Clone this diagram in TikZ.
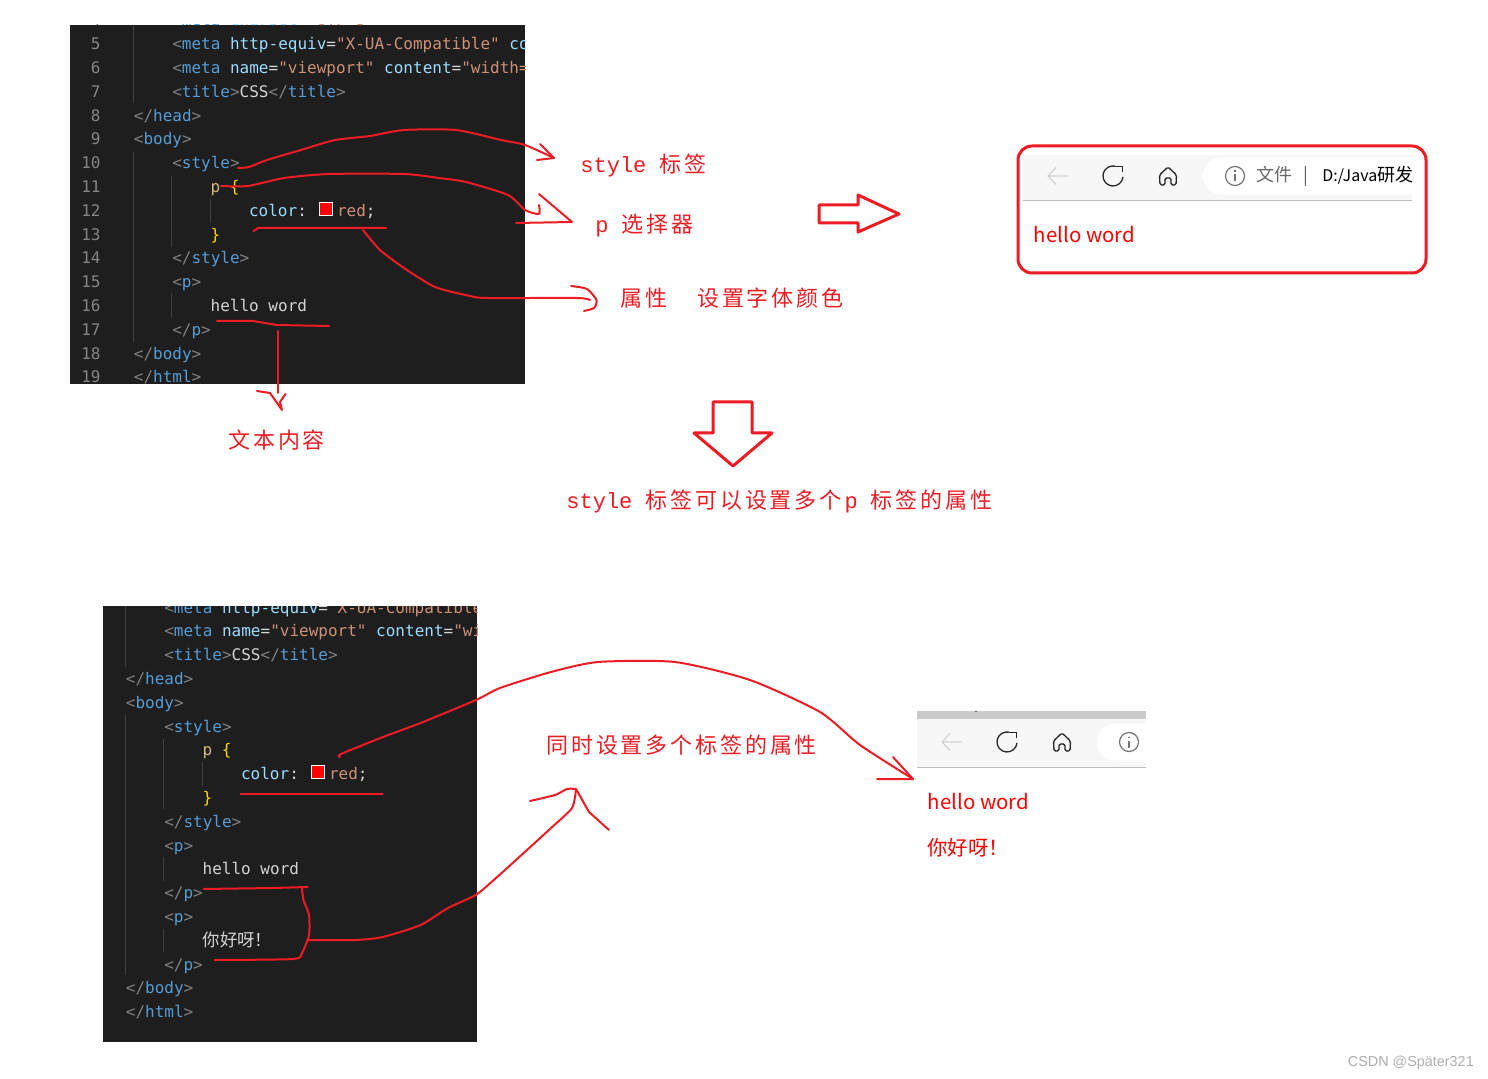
\documentclass[tikz,border=0pt]{standalone}
\usepackage{fontspec}
\setmonofont{Liberation Mono}
\newfontfamily\codefont{DejaVu Sans Mono}
\newfontfamily\cjk{Noto Sans CJK SC}
\newfontfamily\cjklab[LetterSpace=13]{Noto Sans CJK SC}
\newfontfamily\wmfont{Liberation Sans}
\usepackage{xcolor}
\definecolor{inkred}{HTML}{ED1C24}
\definecolor{codebg}{HTML}{1E1E1E}
\definecolor{codefg}{HTML}{D4D4D4}
\definecolor{codegray}{HTML}{808080}
\definecolor{codeblue}{HTML}{569CD6}
\definecolor{codeattr}{HTML}{9CDCFE}
\definecolor{codestr}{HTML}{CE9178}
\definecolor{codesel}{HTML}{D7BA7D}
\definecolor{codebrace}{HTML}{FFD700}
\definecolor{codenum}{HTML}{858585}
\definecolor{guidegray}{HTML}{404040}
\definecolor{barbg}{HTML}{F7F7F7}
\definecolor{barline}{HTML}{BDBDBD}
\newcommand\cbr[1]{\textcolor{codegray}{#1}}
\newcommand\tgn[1]{\textcolor{codeblue}{#1}}
\newcommand\atn[1]{\textcolor{codeattr}{#1}}
\newcommand\stv[1]{\textcolor{codestr}{#1}}
\newcommand\otag[1]{\cbr{<}\tgn{#1}\cbr{>}}
\newcommand\ctag[1]{\cbr{</}\tgn{#1}\cbr{>}}
\newcommand\titleline{\cbr{<}\tgn{title}\cbr{>}CSS\ctag{title}}
\newcommand\pline{\textcolor{codesel}{p}\ \textcolor{codebrace}{\{}}
\newcommand\colorline{\atn{color}:\hspace{15.1pt}\stv{red};}
\tikzset{
  inkline/.style={draw=inkred, line width=1pt, line join=round, line cap=round},
  codebox/.style={fill=codebg},
  codetext/.style={anchor=base west, inner sep=0pt, text=codefg, font=\codefont\fontsize{8}{10}\selectfont},
  linenum/.style={anchor=base east, inner sep=0pt, text=codenum, font=\codefont\fontsize{8}{10}\selectfont},
  guideline/.style={draw=guidegray, line width=0.5pt},
  swatch/.style={draw=white, fill=red, line width=0.5pt, minimum size=6.5pt, inner sep=0pt},
  inklab/.style={anchor=west, inner sep=0pt, text=inkred, font=\fontsize{11}{13}\selectfont},
  pagetext/.style={anchor=west, inner sep=0pt, text=red, font=\cjk\fontsize{10.2}{12}\selectfont},
  bartext/.style={anchor=west, inner sep=0pt, font=\cjk\fontsize{9}{11}\selectfont},
  navbar/.pic={
    \fill[white, rounded corners=9pt] (145,-18.5) rectangle (400,18.5);
    \draw[gray!35, line width=0.6pt] (10,0) -- (-10,0) (-2,-8.5) -- (-10,0) -- (-2,8.5);
    \draw[black!85, line width=0.65pt] (55,0) ++(9.96,0.87) arc[start angle=5, end angle=280, radius=10];
    \draw[black!85, line width=0.65pt] (56.7,-9.8) -- (64.5,-9.8) -- (64.5,-4);
    \draw[black!85, line width=0.65pt, rounded corners=0.8pt] (107,9) -- (107,2) -- (113,2) -- (113,9)
      -- (118,9) -- (118.5,-1) -- (110,-9) -- (101.5,-1) -- (102,9) -- cycle;
    \draw[black!55, line width=0.6pt] (177,0) circle[radius=9.5];
    \draw[black!55, line width=0.6pt] (177,-1.5) -- (177,5.5) (177,-5.5) -- (177,-4);
  },
}
\begin{document}
\begin{tikzpicture}[x=0.5pt,y=-0.5pt]
\useasboundingbox (0,0) rectangle (1488,1079);
\fill[codebox] (70,25) rectangle (525,384);
\begin{scope}
  \clip (70,25) rectangle (525,384);
  \foreach \n/\ind/\code in {
    4/1/{\cbr{<}\tgn{meta} \atn{charset}=\stv{"UTF-8"}\cbr{>}},
    5/1/{\cbr{<}\tgn{meta} \atn{http-equiv}=\stv{"X-UA-Compatible"} \atn{co}},
    6/1/{\cbr{<}\tgn{meta} \atn{name}=\stv{"viewport"} \atn{content}=\stv{"width=}},
    7/1/{\titleline},
    8/0/{\ctag{head}},
    9/0/{\otag{body}},
    10/1/{\otag{style}},
    11/2/{\pline},
    12/3/{\colorline},
    13/2/{\textcolor{codebrace}{\}}},
    14/1/{\ctag{style}},
    15/1/{\otag{p}},
    16/2/{hello word},
    17/1/{\ctag{p}},
    18/0/{\ctag{body}},
    19/0/{\ctag{html}}}{
    \pgfmathsetmacro\cx{133.5+38.4*\ind}
    \pgfmathsetmacro\cy{26+23.8*(\n-4)}
    \node[linenum] (numA\n) at (101,\cy) {\n};
    \node[codetext] (lineA\n) at (\cx,\cy) {\code};
  }
\end{scope}
\draw[guideline] (133.5,25) -- (133.5,103) (133.5,152) -- (133.5,342)
  (171.5,176) -- (171.5,247) (210,199) -- (210,223) (171.5,294) -- (171.5,318);
\node[swatch] (swatchA) at (326,209) {};
\fill[codebox] (103,606) rectangle (477,1042);
\begin{scope}
  \clip (103,606) rectangle (477,1042);
  \foreach \n/\ind/\code in {
    0/1/{\cbr{<}\tgn{meta} \atn{http-equiv}=\stv{"X-UA-Compatible"}},
    1/1/{\cbr{<}\tgn{meta} \atn{name}=\stv{"viewport"} \atn{content}=\stv{"wi}},
    2/1/{\titleline},
    3/0/{\ctag{head}},
    4/0/{\otag{body}},
    5/1/{\otag{style}},
    6/2/{\pline},
    7/3/{\colorline},
    8/2/{\textcolor{codebrace}{\}}},
    9/1/{\ctag{style}},
    10/1/{\otag{p}},
    11/2/{hello word},
    12/1/{\ctag{p}},
    13/1/{\otag{p}},
    14/2/{{\cjk\fontsize{8.7}{10}\selectfont 你好呀！}},
    15/1/{\ctag{p}},
    16/0/{\ctag{body}},
    17/0/{\ctag{html}}}{
    \pgfmathsetmacro\cx{125.5+38.4*\ind}
    \pgfmathsetmacro\cy{613+23.8*\n}
    \node[codetext] (lineB\n) at (\cx,\cy) {\code};
  }
\end{scope}
\draw[guideline] (125.5,606) -- (125.5,667) (125.5,715) -- (125.5,975)
  (163.5,739) -- (163.5,809) (202,762) -- (202,786) (163.5,857) -- (163.5,881) (163.5,929) -- (163.5,952);
\node[swatch] (swatchB) at (318,772) {};

\node[inklab] (stylelab) at (580,165) {\texttt{style\ }{\cjklab 标签}};
\node[inklab] (plab) at (595,225.5) {\texttt{p\ }{\cjklab 选择器}};
\node[inklab] (attrlab) at (620,298) {{\cjklab 属性}\hspace{15pt}{\cjklab 设置字体颜色}};
\node[inklab] (textlab) at (228,440) {{\cjklab 文本内容}};
\node[inklab] (manylab) at (566,501) {\texttt{style\ }{\cjklab 标签可以设置多个}\texttt{p\ }{\cjklab 标签的属性}};
\node[inklab] (bothlab) at (546,745) {{\cjklab 同时设置多个标签的属性}};

\coordinate (stylemk) at (238,168);
\coordinate (stylept) at (554,158);
\draw[inkline] plot[smooth, tension=0.4] coordinates {(stylemk) (249,167) (267,160) (301,150) (335,140) (370,136) (404,130) (456,130) (501,140) (525,145) (stylept)};
\draw[inkline] (540,144) -- (stylept) -- (537,160);
\coordinate (pmk) at (221,186);
\coordinate (pend) at (539,205);
\coordinate (ppt) at (572,222);
\draw[inkline] plot[smooth, tension=0.4] coordinates {(pmk) (248,186) (284,178) (329,174) (404,174) (439,178) (466,182) (508,195) (525,210) (539,214) (pend)};
\draw[inkline] (539,194) -- (ppt) -- (516,223);
\coordinate (colormk) at (253.5,231);
\coordinate (colorend) at (386,228);
\draw[inkline] (colormk) -- (258,228) -- (colorend);
\coordinate (attrmk) at (363,230);
\coordinate (attrpt) at (596.5,300);
\draw[inkline] plot[smooth, tension=0.4] coordinates {(attrmk) (380,250) (404,268) (435,287) (470,296) (487,298) (576.5,298) (590,300)};
\draw[inkline] plot[smooth, tension=0.4] coordinates {(571,286) (587,289) (attrpt) (594,308) (584,311)};
\coordinate (hellomk) at (217,321);
\coordinate (helloend) at (329,326);
\draw[inkline] (hellomk) -- (253,321) -- (277,325) -- (helloend);
\coordinate (textmk) at (277.6,331);
\coordinate (textpt) at (282,410);
\draw[inkline] (textmk) -- (277.6,393);
\draw[inkline] (257,391) -- (270,393) -- (textpt) -- (280,402) -- (285.5,394);

\draw[inkline, line width=1.5pt] (819,205) -- (858,205) -- (858,195) -- (899,214) -- (858,232) -- (858,223) -- (819,223) -- cycle;
\draw[inkline, line width=1.5pt] (713,402) -- (752,402) -- (752,433) -- (772,433) -- (733,466) -- (694,433) -- (713,433) -- cycle;

\coordinate (colormkB) at (240.5,794);
\coordinate (colorendB) at (382.7,794);
\draw[inkline] (colormkB) -- (colorendB);
\coordinate (arcmk) at (340,757);
\coordinate (arcpt) at (913,779);
\draw[inkline] plot[smooth, tension=0.4] coordinates {(arcmk) (341,754) (383,737) (420.6,723) (476,700) (500,688) (551,672) (598,662) (675,662) (750,680) (820,712) (860,745) (arcpt)};
\draw[inkline] (893,757) -- (arcpt) -- (877,779);
\coordinate (bracktop) at (203.6,889);
\coordinate (brackend) at (307.6,887);
\draw[inkline] (bracktop) -- (272.5,888) -- (brackend);
\coordinate (brackbot) at (214.7,960);
\draw[inkline] plot[smooth, tension=0.4] coordinates {(302,888) (303.5,900) (309,915) (309,935) (302,953) (293,959) (brackbot)};
\coordinate (brackmid) at (307.6,940);
\coordinate (uppt) at (576,789);
\draw[inkline] plot[smooth, tension=0.4] coordinates {(brackmid) (355,940) (382.7,937) (420.6,925) (448,908) (475.7,895) (496,878) (527,850) (551,828) (572,808) (uppt)};
\draw[inkline] plot[smooth, tension=0.4] coordinates {(530,801) (555,795) (567,789) (uppt)};
\draw[inkline] (uppt) -- (589,812) -- (609,830);

\draw[inkline, line width=1.5pt, rounded corners=7pt] (1018,146) rectangle (1426,273);
\begin{scope}
  \clip (1023,155) rectangle (1412,200);
  \fill[barbg] (1023,155) rectangle (1412,200);
  \pic (barA) at (1058,176) {navbar};
\end{scope}
\draw[barline, line width=0.5pt] (1023,200.5) -- (1412,200.5);
\node[bartext, text=black!60] (filelab) at (1256,175) {文件};
\node[bartext, text=black!60] (barsep) at (1303,176) {|};
\node[bartext, text=black] (pathlab) at (1322,175) {{\fontsize{8}{11}\selectfont D:/Java}研发};
\node[pagetext] (helloA) at (1033.5,235) {hello word};

\fill[barline!80] (917,711) rectangle (1146,719);
\fill[black!60] (975,711) rectangle (977,712);
\begin{scope}
  \clip (917,719) rectangle (1146,767);
  \fill[barbg] (917,719) rectangle (1146,767);
  \pic (barB) at (952,742) {navbar};
\end{scope}
\draw[barline, line width=0.5pt] (917,767.5) -- (1146,767.5);
\node[pagetext] (helloB) at (927.5,802) {hello word};
\node[pagetext] (niceB) at (927,848) {你好呀！};

\node[anchor=west, inner sep=0pt, text=black!32, font=\wmfont\fontsize{7.2}{9}\selectfont] (watermark) at (1347.5,1063) {CSDN @Später321};
\end{tikzpicture}
\end{document}
